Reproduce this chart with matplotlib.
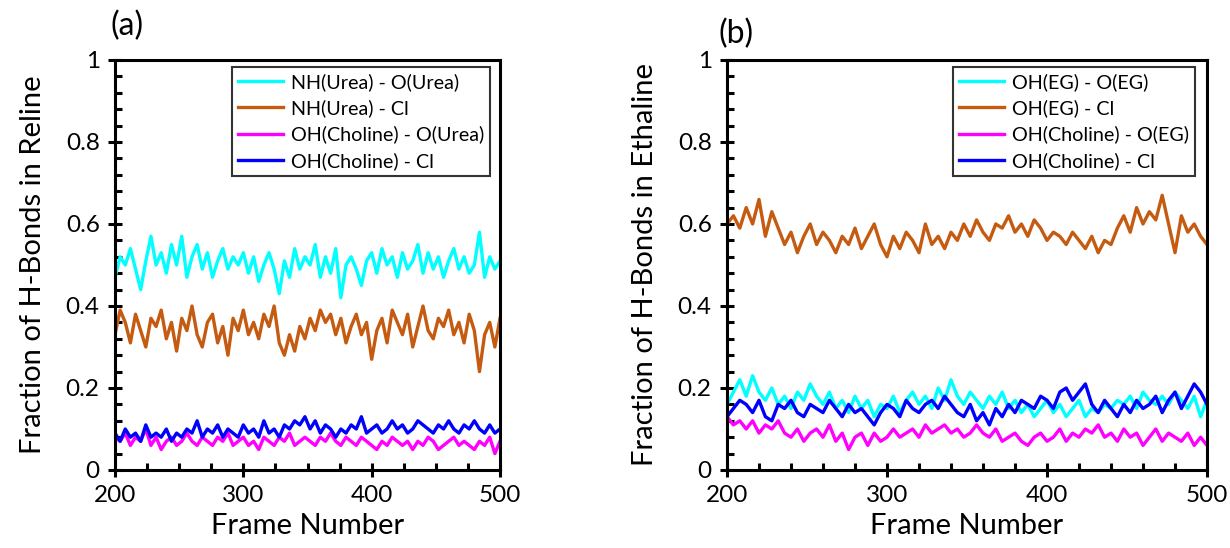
import numpy as np
import matplotlib
matplotlib.use("Agg")
import matplotlib.pyplot as plt
from matplotlib.ticker import MultipleLocator

plt.rcParams['font.family'] = ['Lato', 'DejaVu Sans']

# Reline (a), sampled every ~4 frames from 200 to 500
cyan_a = [0.47,0.52,0.50,0.54,0.49,0.44,0.51,0.57,0.50,0.53,0.48,0.55,0.50,0.57,0.47,0.52,0.55,0.49,0.53,0.47,
          0.51,0.54,0.49,0.52,0.50,0.53,0.48,0.52,0.46,0.50,0.53,0.49,0.43,0.51,0.47,0.54,0.49,0.52,0.50,0.55,
          0.47,0.52,0.48,0.54,0.42,0.50,0.52,0.49,0.45,0.51,0.53,0.48,0.54,0.50,0.52,0.47,0.53,0.49,0.51,0.55,
          0.48,0.53,0.49,0.52,0.47,0.51,0.54,0.49,0.52,0.48,0.50,0.58,0.47,0.52,0.49,0.51]
orange_a = [0.33,0.39,0.36,0.31,0.38,0.34,0.30,0.37,0.35,0.39,0.32,0.36,0.29,0.37,0.34,0.40,0.33,0.30,0.36,0.38,
            0.31,0.35,0.28,0.37,0.34,0.39,0.33,0.36,0.32,0.38,0.35,0.40,0.31,0.28,0.33,0.29,0.35,0.32,0.37,0.34,
            0.39,0.36,0.38,0.33,0.37,0.31,0.35,0.38,0.33,0.36,0.27,0.34,0.37,0.31,0.39,0.36,0.33,0.38,0.30,0.35,
            0.40,0.34,0.32,0.37,0.35,0.39,0.33,0.36,0.31,0.38,0.34,0.24,0.33,0.36,0.30,0.37]
pink_a = [0.08,0.07,0.09,0.06,0.08,0.07,0.10,0.06,0.08,0.05,0.07,0.08,0.06,0.07,0.09,0.07,0.06,0.08,0.07,0.06,
          0.08,0.07,0.09,0.06,0.07,0.08,0.06,0.07,0.05,0.08,0.07,0.06,0.08,0.07,0.09,0.06,0.07,0.08,0.07,0.06,
          0.08,0.07,0.09,0.07,0.06,0.08,0.07,0.06,0.08,0.07,0.06,0.05,0.07,0.06,0.08,0.07,0.06,0.07,0.05,0.07,
          0.06,0.08,0.07,0.05,0.06,0.07,0.08,0.06,0.07,0.06,0.05,0.07,0.06,0.08,0.04,0.07]
blue_a = [0.09,0.07,0.10,0.08,0.09,0.07,0.11,0.08,0.09,0.08,0.10,0.07,0.09,0.08,0.10,0.09,0.12,0.08,0.10,0.09,
          0.11,0.08,0.10,0.09,0.08,0.11,0.09,0.10,0.08,0.12,0.09,0.10,0.08,0.11,0.10,0.12,0.11,0.13,0.10,0.12,
          0.09,0.11,0.10,0.08,0.10,0.09,0.11,0.10,0.13,0.09,0.10,0.11,0.09,0.10,0.12,0.10,0.11,0.09,0.10,0.12,
          0.11,0.10,0.09,0.11,0.10,0.12,0.10,0.09,0.11,0.10,0.12,0.10,0.09,0.11,0.09,0.10]

# Ethaline (b)
cyan_b = [0.16,0.19,0.22,0.18,0.23,0.19,0.17,0.20,0.16,0.18,0.15,0.19,0.17,0.21,0.18,0.16,0.19,0.15,0.17,0.14,
          0.18,0.15,0.17,0.13,0.16,0.15,0.18,0.14,0.17,0.19,0.16,0.18,0.15,0.20,0.17,0.22,0.18,0.16,0.19,0.17,
          0.15,0.18,0.16,0.19,0.15,0.17,0.14,0.16,0.13,0.15,0.17,0.14,0.16,0.13,0.15,0.17,0.13,0.15,0.14,0.16,
          0.15,0.17,0.16,0.18,0.15,0.19,0.17,0.16,0.18,0.16,0.19,0.17,0.15,0.18,0.13,0.17]
orange_b = [0.60,0.62,0.59,0.64,0.60,0.66,0.57,0.63,0.59,0.55,0.58,0.53,0.57,0.60,0.55,0.58,0.56,0.53,0.57,0.55,
            0.59,0.54,0.57,0.60,0.55,0.52,0.57,0.54,0.58,0.56,0.53,0.60,0.55,0.57,0.54,0.58,0.56,0.60,0.57,0.61,
            0.58,0.56,0.60,0.59,0.62,0.58,0.60,0.57,0.61,0.59,0.56,0.58,0.57,0.55,0.58,0.56,0.54,0.57,0.53,0.56,
            0.55,0.59,0.62,0.58,0.64,0.60,0.63,0.61,0.67,0.60,0.53,0.62,0.58,0.60,0.57,0.55]
pink_b = [0.13,0.11,0.12,0.10,0.12,0.09,0.11,0.10,0.12,0.09,0.08,0.10,0.07,0.09,0.10,0.08,0.11,0.07,0.09,0.05,
          0.08,0.09,0.06,0.09,0.07,0.08,0.10,0.08,0.09,0.10,0.08,0.11,0.09,0.10,0.11,0.09,0.10,0.08,0.09,0.11,
          0.09,0.08,0.10,0.07,0.08,0.09,0.07,0.06,0.08,0.09,0.07,0.08,0.10,0.07,0.09,0.08,0.10,0.09,0.11,0.08,
          0.09,0.07,0.10,0.08,0.09,0.06,0.08,0.10,0.07,0.09,0.08,0.07,0.09,0.06,0.08,0.06]
blue_b = [0.13,0.15,0.17,0.16,0.14,0.17,0.13,0.12,0.16,0.15,0.17,0.14,0.13,0.16,0.15,0.14,0.17,0.15,0.13,0.16,
          0.14,0.15,0.13,0.11,0.14,0.16,0.15,0.13,0.17,0.15,0.14,0.16,0.17,0.15,0.18,0.16,0.14,0.13,0.16,0.12,
          0.14,0.11,0.15,0.13,0.16,0.14,0.17,0.16,0.15,0.18,0.17,0.15,0.19,0.20,0.17,0.19,0.21,0.16,0.14,0.17,
          0.15,0.13,0.16,0.14,0.17,0.15,0.16,0.18,0.14,0.17,0.19,0.15,0.18,0.21,0.19,0.16]

labels_a = ["NH(Urea) - O(Urea)", "NH(Urea) - Cl", "OH(Choline) - O(Urea)", "OH(Choline) - Cl"]
labels_b = ["OH(EG) - O(EG)", "OH(EG) - Cl", "OH(Choline) - O(EG)", "OH(Choline) - Cl"]
colors = ["#00FFFF", "#C55A11", "#FF00FF", "#0000FF"]

fig = plt.figure(figsize=(12.3, 5.48), dpi=100)
ax1 = fig.add_axes([115/1230, 78/548, 385/1230, 410/548])
ax2 = fig.add_axes([727/1230, 78/548, 480/1230, 410/548])


def draw(ax, series, labels, ylabel, xminor):
    for ys, lab, c in zip(series, labels, colors):
        xs = np.linspace(200, 500, len(ys))
        ax.plot(xs, ys, color=c, lw=2.4, label=lab)
    ax.set_xlim(200, 500)
    ax.set_ylim(0, 1)
    ax.xaxis.set_major_locator(MultipleLocator(100))
    ax.xaxis.set_minor_locator(MultipleLocator(xminor))
    ax.yaxis.set_minor_locator(MultipleLocator(0.04))
    ax.set_yticks([0, 0.2, 0.4, 0.6, 0.8, 1.0])
    ax.set_yticklabels(["0", "0.2", "0.4", "0.6", "0.8", "1"])
    ax.tick_params(which='major', direction='inout', length=10, width=2.2, labelsize=17.5, pad=6)
    ax.tick_params(which='minor', direction='in', length=5, width=2.2)
    for sp in ax.spines.values():
        sp.set_linewidth(2.2)
    ax.set_xlabel("Frame Number", fontsize=21, labelpad=5)
    ax.set_ylabel(ylabel, fontsize=21, labelpad=14)
    leg = ax.legend(loc='upper right', bbox_to_anchor=(0.975, 0.982), fontsize=14.2,
                    fancybox=False, edgecolor='black', handlelength=2.3,
                    borderpad=0.3, labelspacing=0.42, handletextpad=0.4, borderaxespad=0)
    leg.get_frame().set_linewidth(1.5)


draw(ax1, [cyan_a, orange_a, pink_a, blue_a], labels_a, "Fraction of H-Bonds in Reline", 25)
draw(ax2, [cyan_b, orange_b, pink_b, blue_b], labels_b, "Fraction of H-Bonds in Ethaline", 20)

fig.text(110/1230, 1 - 26/548, "(a)", fontsize=23, va='center')
fig.text(718/1230, 1 - 34/548, "(b)", fontsize=23, va='center')

fig.savefig("out.png", dpi=100)
